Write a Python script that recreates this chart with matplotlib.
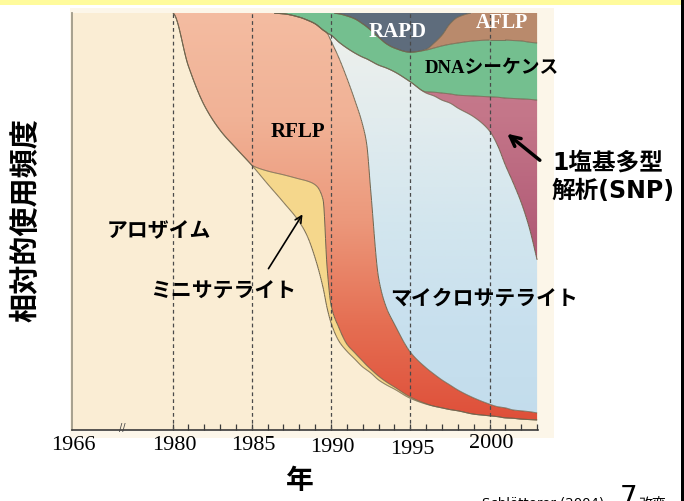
import numpy as np
import matplotlib
matplotlib.use("Agg")
import matplotlib.pyplot as plt
from matplotlib.colors import LinearSegmentedColormap
from matplotlib.collections import LineCollection
from matplotlib.patches import Rectangle, FancyArrowPatch

# ---- data: relative usage (%) of each marker type, stacked bottom to top ----
years = [1966, 1979, 1980, 1981, 1982, 1983, 1984, 1985, 1986, 1987, 1988, 1988.5,
         1989, 1989.5, 1989.75, 1990, 1990.5, 1991, 1991.5, 1992, 1992.25, 1992.5,
         1993, 1993.5, 1994, 1995, 1996, 1996.5, 1997, 1997.5, 1998, 1999, 2000,
         2000.5, 2001, 2001.5, 2002, 2002.5, 2003]

allozyme = [100, 100, 100, 87.3, 77.9, 71.9, 67.6, 63.5, 59.0, 54.6, 49.9, 46.5,
            41.2, 34.1, 29.3, 25.7, 21.3, 18.9, 17.0, 15.1, 14.4, 13.7,
            12.0, 10.8, 9.8, 7.6, 6.2, 5.7, 5.3, 4.9, 4.6, 3.8, 3.4,
            3.2, 2.9, 2.8, 2.6, 2.5, 2.4]
minisatellite = [0, 0, 0, 0, 0, 0, 0, 0, 3.1, 6.6, 10.3, 13.2,
                 17.6, 21.1, 9.8, 4.3, 3.2, 1.7, 1.5, 1.4, 1.1, 0.9,
                 0.9, 0.7, 0.5, 0.3, 0.1, 0, 0, 0, 0, 0, 0,
                 0, 0, 0, 0, 0, 0]
rflp = [0, 0, 0, 12.7, 22.1, 28.1, 32.4, 36.5, 37.9, 38.6, 38.8, 38.6,
        38.6, 40.7, 56.1, 63.3, 64.7, 63.8, 60.6, 56.6, 53.1, 43.0,
        23.6, 17.8, 15.1, 10.8, 8.6, 7.7, 6.7, 5.9, 5.0, 3.9, 2.8,
        2.4, 2.4, 2.0, 2.0, 1.9, 1.7]
microsatellite = [0, 0, 0, 0, 0, 0, 0, 0, 0, 0, 0, 0,
                  0, 0, 0, 1.4, 3.8, 7.2, 11.3, 16.3, 20.4, 30.9,
                  51.0, 57.5, 60.5, 64.8, 65.9, 66.7, 67.1, 67.6, 67.6, 67.4, 65.5,
                  62.7, 58.2, 54.4, 49.9, 44.2, 36.7]
snp = [0, 0, 0, 0, 0, 0, 0, 0, 0, 0, 0, 0,
       0, 0, 0, 0, 0, 0, 0, 0, 0, 0,
       0, 0, 0, 0, 0.3, 0.9, 1.7, 2.2, 3.1, 5.0, 8.2,
       11.5, 16.1, 20.3, 24.9, 30.7, 38.3]
dna_sequence = [0, 0, 0, 0, 0, 0, 0, 0, 0, 0.2, 1.0, 1.7,
                2.6, 4.1, 4.8, 5.3, 6.8, 7.7, 8.2, 8.0, 7.7, 7.4,
                6.7, 5.8, 5.7, 7.1, 10.0, 10.6, 11.3, 11.9, 12.5, 13.2, 13.6,
                13.7, 13.9, 13.9, 13.9, 13.7, 13.7]
aflp = [0, 0, 0, 0, 0, 0, 0, 0, 0, 0, 0, 0,
        0, 0, 0, 0, 0, 0, 0, 0, 0, 0,
        0, 0, 0, 0, 0.2, 1.2, 2.6, 4.9, 6.2, 6.7, 6.5,
        6.5, 6.5, 6.6, 6.7, 7.0, 7.2]
rapd = [0, 0, 0, 0, 0, 0, 0, 0, 0, 0, 0, 0,
        0, 0, 0, 0, 0.2, 0.7, 1.4, 2.6, 3.3, 4.1,
        5.8, 7.4, 8.4, 9.4, 8.7, 7.2, 5.3, 2.6, 1.0, 0, 0,
        0, 0, 0, 0, 0, 0]

tick_years = [1966, 1980, 1985, 1990, 1995, 2000]
tick_labels = ["1966", "1980", "1985", "1990", "1995", "2000"]
dashed_years = [1980, 1985, 1990, 1995, 2000]

JP = "Noto Sans CJK JP"

# ---- figure and layout helpers ----
W, H = 684, 501
fig = plt.figure(figsize=(W / 100, H / 100), dpi=100)
fig.patch.set_facecolor("white")


def fxy(x, y):
    return (x / W, 1 - y / H)


# header band, printed panel, right-hand rule (kept behind the axes)
for rect in [
    Rectangle((0, 1 - 5 / H), 681 / W, 5 / H, facecolor="#FFFB9C"),
    Rectangle(fxy(70, 438), 484 / W, 430 / H, facecolor="#FCF6E9"),
    Rectangle((681 / W, 0), 2.5 / W, 1, facecolor="black"),
]:
    rect.set_transform(fig.transFigure)
    rect.set_edgecolor("none")
    rect.set_zorder(-10)
    fig.patches.append(rect)

ax = fig.add_axes([72 / W, 1 - 430 / H, (537.9 - 72) / W, 417 / H])
ax.set_facecolor("none")
ax.set_zorder(1)

# the years before 1980 are compressed (broken axis)
X0 = 1973.66
XMAX = 2003.05


def to_pos(yr):
    yr = np.asarray(yr, dtype=float)
    return np.where(yr < 1980, X0 + (yr - 1966) * (1980 - X0) / 14.0, yr)


def pchip(xk, yk, xq):
    """Shape-preserving cubic Hermite curve through the given points."""
    h = np.diff(xk)
    d = np.diff(yk) / h
    m = np.zeros_like(yk)
    m[0], m[-1] = d[0], d[-1]
    for k in range(1, len(xk) - 1):
        if d[k - 1] * d[k] > 0:
            w1 = 2 * h[k] + h[k - 1]
            w2 = h[k] + 2 * h[k - 1]
            m[k] = (w1 + w2) / (w1 / d[k - 1] + w2 / d[k])
    i = np.clip(np.searchsorted(xk, xq) - 1, 0, len(xk) - 2)
    t = (xq - xk[i]) / h[i]
    h00 = 2 * t**3 - 3 * t**2 + 1
    h10 = t**3 - 2 * t**2 + t
    h01 = -2 * t**3 + 3 * t**2
    h11 = t**3 - t**2
    return h00 * yk[i] + h10 * h[i] * m[i] + h01 * yk[i + 1] + h11 * h[i] * m[i + 1]


xk = to_pos(years)
layers = np.vstack([allozyme, minisatellite, rflp, microsatellite, snp,
                    dna_sequence, aflp, rapd]).astype(float)
cum = np.cumsum(layers, axis=0)

# smooth the stacked boundaries for drawing
x = np.linspace(xk[0], xk[-1], 900)
tops = np.vstack([pchip(xk, c, x) for c in cum])
tops = np.clip(np.maximum.accumulate(tops, axis=0), 0, 100)
tops[-1] = 100
bottoms = np.vstack([np.zeros(len(x)), tops[:-1]])


def gradient_fill(i, colors, z):
    poly = ax.fill_between(x, bottoms[i], tops[i], facecolor="none",
                           edgecolor="none", zorder=z)
    cmap = LinearSegmentedColormap.from_list("g%d" % i, colors)
    grad = np.linspace(0, 1, 256).reshape(-1, 1)
    im = ax.imshow(grad, extent=[X0, XMAX, 0, 100], origin="lower",
                   aspect="auto", cmap=cmap, zorder=z, interpolation="bilinear")
    im.set_clip_path(poly.get_paths()[0], transform=ax.transData)


solid = {0: "#FAEDD4", 1: "#F5D78C", 5: "#74BF8F", 6: "#B98A6C", 7: "#5E6C7C"}
for i, c in solid.items():
    ax.fill_between(x, bottoms[i], tops[i], facecolor=c, edgecolor="none",
                    zorder=1, linewidth=0)

gradient_fill(2, ["#DE4C37", "#E56E52", "#EC987B", "#F1B296", "#F4BCA1"], 1)
gradient_fill(3, ["#C2DCEC", "#C8E0EE", "#D3E6EE", "#E2ECEE", "#F0F1EC"], 1)
gradient_fill(4, ["#953C5A", "#A34C68", "#B45F79", "#C47689", "#C87D90"], 1)

# thin outlines between neighbouring layers
segs = []
for lvl in tops[:-1]:
    for k in range(len(x) - 1):
        a, b = lvl[k], lvl[k + 1]
        if (a >= 99.95 and b >= 99.95) or (a <= 0.05 and b <= 0.05):
            continue
        segs.append([(x[k], a), (x[k + 1], b)])
ax.add_collection(LineCollection(segs, colors="#6E634C", linewidths=0.7, zorder=2))

for yr in dashed_years:
    ax.axvline(yr, color="#4A4A4A", lw=0.9, ls=(0, (3, 2.5)), zorder=3)

ax.set_xlim(X0, XMAX)
ax.set_ylim(0, 100)
ax.set_yticks([])
ax.set_xticks([])
ax.set_xticks(np.arange(1980, 2004), minor=True)
ax.tick_params(axis="x", which="minor", direction="in", length=4, width=0.9,
               color="#3A3A3A", labelbottom=False)
for s in ("top", "right"):
    ax.spines[s].set_visible(False)
ax.spines["left"].set_color("#A09A88")
ax.spines["left"].set_linewidth(1.3)
ax.spines["bottom"].set_color("#3A3A3A")
ax.spines["bottom"].set_linewidth(1.2)

# tick labels (serif), placed under the axis
xt = ax.get_xaxis_transform()
offsets = [0, 0, 0, 1, 4, -3]
for yr, lab, dy in zip(tick_years, tick_labels, offsets):
    ax.text(float(to_pos(yr)) + 0.1, -(16 + dy) / 417, lab, transform=xt, ha="center",
            va="center", fontsize=16, family="Liberation Serif", clip_on=False)
ax.text(float(to_pos(1973)), 0.004, "//", transform=xt, ha="center", va="center",
        fontsize=7, color="#444444", clip_on=False)

# axis titles
fig.text(*fxy(25, 220), "相対的使用頻度", rotation=90, ha="center", va="center",
         fontsize=21, fontweight="bold", family=JP)
fig.text(*fxy(300, 481), "年", ha="center", va="center", fontsize=20,
         fontweight="bold", family=JP)

# labels inside the areas
fig.text(*fxy(398, 32), "RAPD", ha="center", va="center", fontsize=15,
         fontweight="bold", family="Liberation Serif", color="white", zorder=5)
fig.text(*fxy(502, 23), "AFLP", ha="center", va="center", fontsize=14.5,
         fontweight="bold", family="Liberation Serif", color="white", zorder=5)
fig.text(*fxy(425, 69), "DNAシーケンス", ha="left", va="center", fontsize=13.5,
         fontweight="bold", family=["Liberation Serif", JP], zorder=5)
fig.text(*fxy(298, 132), "RFLP", ha="center", va="center", fontsize=15,
         fontweight="bold", family="Liberation Serif", zorder=5)
fig.text(*fxy(107, 231), "アロザイム", ha="left", va="center", fontsize=15,
         fontweight="bold", family=JP, zorder=5)
fig.text(*fxy(150, 291), "ミニサテライト", ha="left", va="center", fontsize=15,
         fontweight="bold", family=JP, zorder=5)
fig.text(*fxy(390, 298), "マイクロサテライト", ha="left", va="center", fontsize=15,
         fontweight="bold", family=JP, zorder=5)
fig.text(*fxy(552, 177), "1塩基多型\n解析(SNP)", ha="left", va="center", fontsize=17,
         fontweight="bold", family=["DejaVu Sans", JP], linespacing=1.25, zorder=5)

# pointer arrows
for tail, head, ms, lw in [((542, 162), (505, 132), 18, 2.5),
                           ((267, 271), (304, 212), 12, 1.2)]:
    arr = FancyArrowPatch(fxy(*tail), fxy(*head), transform=fig.transFigure,
                          arrowstyle="->", mutation_scale=ms, lw=lw, color="black")
    arr.set_zorder(5)
    fig.add_artist(arr)

# source line along the bottom edge
fig.text(*fxy(482, 507), "Schlötterer (2004)", ha="left", va="baseline", fontsize=9.5,
         family="DejaVu Sans")
fig.text(*fxy(620, 506), "7", ha="left", va="baseline", fontsize=20, family="DejaVu Sans")
fig.text(*fxy(638, 508), "改変", ha="left", va="baseline", fontsize=10, family=JP)

fig.savefig("out.png", dpi=100)
